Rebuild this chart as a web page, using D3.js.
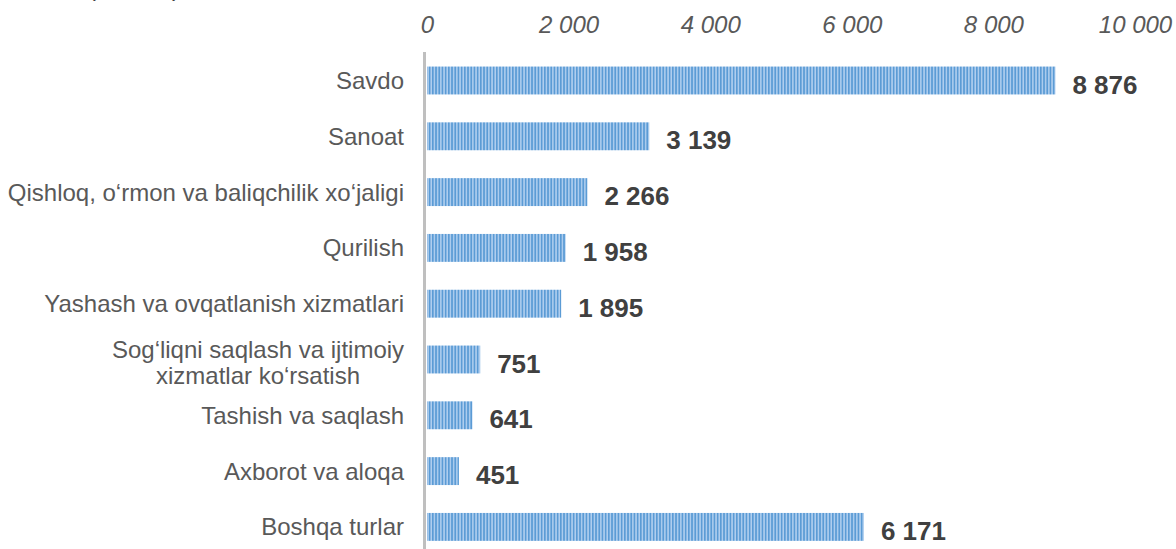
<!DOCTYPE html>
<html>
<head>
<meta charset="utf-8">
<script src="https://cdn.jsdelivr.net/npm/d3@7"></script>
<style>
  body { margin: 0; background: #fff; }
  text { font-family: "Liberation Sans", Arial, sans-serif; }
</style>
</head>
<body>
<div id="viz-container"></div>
<script>
// categories, values, axis ticks
let categories = [
    ["Savdo"],
    ["Sanoat"],
    ["Qishloq, o‘rmon va baliqchilik xo‘jaligi"],
    ["Qurilish"],
    ["Yashash va ovqatlanish xizmatlari"],
    ["Sog‘liqni saqlash va ijtimoiy", "xizmatlar ko‘rsatish"],
    ["Tashish va saqlash"],
    ["Axborot va aloqa"],
    ["Boshqa turlar"]
];
let values = [8876, 3139, 2266, 1958, 1895, 751, 641, 451, 6171];
let tickValues = [0, 2000, 4000, 6000, 8000, 10000];

let w = 1176, h = 549;
let viz = d3.select("#viz-container")
    .append("svg")
    .attr("width", w)
    .attr("height", h);

// striped fill for the bars
let defs = viz.append("defs");
let pat = defs.append("pattern")
    .attr("id", "stripes")
    .attr("patternUnits", "userSpaceOnUse")
    .attr("width", 3.2)
    .attr("height", 10);
pat.append("rect").attr("width", 3.2).attr("height", 10).attr("fill", "#5b9bd5");
pat.append("rect").attr("x", 1.7).attr("width", 1.5).attr("height", 10).attr("fill", "#b0cfef");

let fmt = v => d3.format(",")(v).replace(/,/g, " ");

let xScale = d3.scaleLinear().domain([0, 10000]).range([427, 1135]);
let yScale = d3.scaleBand()
    .domain(d3.range(categories.length))
    .range([52.6, 554.8])
    .paddingInner(0.5)
    .paddingOuter(0.25);

// heading, mostly cut off above the picture
viz.append("text")
    .attr("x", 88).attr("y", -4)
    .attr("font-size", 24)
    .attr("fill", "#404040")
    .text("(birlikda)");

// top axis (labels only)
let xAxis = d3.axisTop(xScale)
    .tickValues(tickValues)
    .tickSize(0)
    .tickPadding(0)
    .tickFormat(fmt);
let xAxisGroup = viz.append("g").attr("transform", "translate(0,33)").call(xAxis);
xAxisGroup.select(".domain").remove();
xAxisGroup.selectAll("text")
    .attr("font-family", "Liberation Sans, Arial, sans-serif")
    .attr("font-size", 24)
    .attr("font-style", "italic")
    .attr("fill", "#595959")
    .attr("dy", 0);

// bars
viz.selectAll(".bar").data(values).enter()
    .append("rect")
    .attr("class", "bar")
    .attr("x", xScale(0))
    .attr("y", (d, i) => yScale(i))
    .attr("width", d => xScale(d) - xScale(0))
    .attr("height", yScale.bandwidth())
    .attr("fill", "url(#stripes)");

// vertical axis line
viz.append("line")
    .attr("x1", 424.5).attr("x2", 424.5)
    .attr("y1", 52).attr("y2", h)
    .attr("stroke", "#bfbfbf")
    .attr("stroke-width", 3);

// category labels
let labels = viz.selectAll(".cat").data(categories).enter()
    .append("text")
    .attr("class", "cat")
    .attr("font-size", 24)
    .attr("fill", "#595959")
    .attr("text-anchor", "end")
    .attr("y", (d, i) => yScale(i) + yScale.bandwidth() / 2 + 8.5);
labels.each(function(d, i) {
    let t = d3.select(this);
    if (d.length === 1) {
        t.attr("x", 404).text(d[0]);
    } else {
        let cy = yScale(i) + yScale.bandwidth() / 2;
        t.attr("text-anchor", "middle").attr("y", null);
        d.forEach((line, k) => {
            t.append("tspan")
                .attr("x", 258)
                .attr("y", cy - 2 + k * 26.6)
                .text(line);
        });
    }
});

// value labels
viz.selectAll(".val").data(values).enter()
    .append("text")
    .attr("class", "val")
    .attr("x", d => xScale(d) + 17)
    .attr("y", (d, i) => yScale(i) + yScale.bandwidth() / 2 + 13)
    .attr("font-size", 26)
    .attr("font-weight", "bold")
    .attr("fill", "#404040")
    .text(fmt);
</script>
</body>
</html>
